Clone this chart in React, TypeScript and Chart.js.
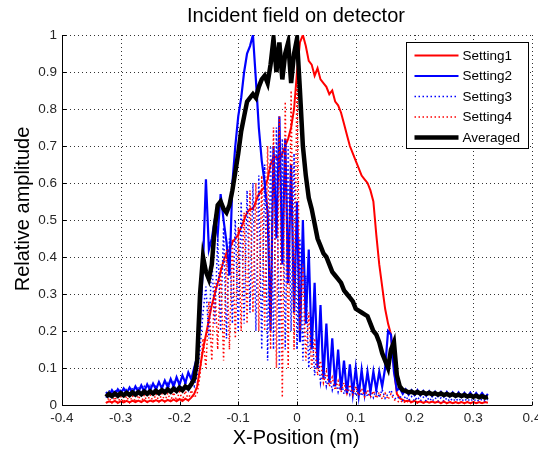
import React, { useEffect, useRef } from "react";
import { Chart, registerables } from "chart.js";

Chart.register(...registerables);

// X positions (m)
const X = [
  -0.325, -0.32, -0.315, -0.31, -0.305, -0.3, -0.295, -0.29, -0.285, -0.28,
  -0.275, -0.27, -0.265, -0.26, -0.255, -0.25, -0.245, -0.24, -0.235, -0.23,
  -0.225, -0.22, -0.215, -0.21, -0.205, -0.2, -0.195, -0.19, -0.185, -0.18,
  -0.175, -0.17, -0.165, -0.16, -0.155, -0.15, -0.145, -0.14, -0.135, -0.13,
  -0.125, -0.12, -0.115, -0.11, -0.105, -0.1, -0.095, -0.09, -0.085, -0.08,
  -0.075, -0.07, -0.065, -0.06, -0.055, -0.05, -0.045, -0.04, -0.035, -0.03,
  -0.025, -0.02, -0.015, -0.01, -0.005, 0, 0.005, 0.01, 0.015, 0.02,
  0.025, 0.03, 0.035, 0.04, 0.045, 0.05, 0.055, 0.06, 0.065, 0.07,
  0.075, 0.08, 0.085, 0.09, 0.095, 0.1, 0.105, 0.11, 0.115, 0.12,
  0.125, 0.13, 0.135, 0.14, 0.145, 0.15, 0.155, 0.16, 0.165, 0.17,
  0.175, 0.18, 0.185, 0.19, 0.195, 0.2, 0.205, 0.21, 0.215, 0.22,
  0.225, 0.23, 0.235, 0.24, 0.245, 0.25, 0.255, 0.26, 0.265, 0.27,
  0.275, 0.28, 0.285, 0.29, 0.295, 0.3, 0.305, 0.31, 0.315, 0.32,
  0.325,
];

const SETTING1 = [
  0.006, 0.01, 0.007, 0.011, 0.006, 0.01, 0.007, 0.011, 0.007, 0.012,
  0.008, 0.012, 0.008, 0.013, 0.008, 0.012, 0.009, 0.013, 0.009, 0.014,
  0.009, 0.014, 0.01, 0.015, 0.01, 0.016, 0.011, 0.017, 0.012, 0.02,
  0.03, 0.05, 0.1, 0.15, 0.19, 0.23, 0.27, 0.3, 0.33, 0.36,
  0.39, 0.41, 0.42, 0.44, 0.45, 0.46, 0.48, 0.5, 0.52, 0.53,
  0.53, 0.55, 0.57, 0.58, 0.59, 0.61, 0.65, 0.67, 0.67, 0.66,
  0.68, 0.7, 0.72, 0.75, 0.8, 0.9, 0.98, 1.0, 0.97, 0.93,
  0.92, 0.89, 0.91, 0.88, 0.87, 0.86, 0.84, 0.85, 0.82, 0.81,
  0.79, 0.76, 0.73, 0.7, 0.68, 0.66, 0.64, 0.62, 0.61, 0.6,
  0.58, 0.55, 0.46, 0.38, 0.32, 0.26, 0.22, 0.19, 0.1, 0.03,
  0.018, 0.014, 0.01, 0.012, 0.008, 0.011, 0.007, 0.01, 0.006, 0.01,
  0.006, 0.009, 0.006, 0.009, 0.005, 0.009, 0.005, 0.008, 0.005, 0.008,
  0.005, 0.008, 0.005, 0.008, 0.005, 0.008, 0.005, 0.008, 0.005, 0.008,
  0.006,
];

const SETTING2 = [
  0.035, 0.025, 0.04, 0.028, 0.042, 0.03, 0.045, 0.032, 0.047, 0.033,
  0.05, 0.035, 0.053, 0.037, 0.056, 0.04, 0.058, 0.042, 0.062, 0.045,
  0.066, 0.048, 0.07, 0.05, 0.075, 0.055, 0.08, 0.06, 0.088, 0.07,
  0.1, 0.13, 0.22, 0.38, 0.61, 0.42, 0.45, 0.5, 0.46, 0.57,
  0.5, 0.44, 0.35, 0.6, 0.7, 0.78, 0.83, 0.9, 0.95, 0.97,
  1.0, 0.88, 0.75, 0.66, 0.6, 0.52, 0.2, 0.7, 0.45, 0.78,
  0.38, 0.72, 0.33, 0.65, 0.25, 0.55, 0.17, 0.5, 0.22, 0.42,
  0.15, 0.33, 0.1, 0.27, 0.07, 0.22, 0.06, 0.18, 0.05, 0.15,
  0.04, 0.12, 0.03, 0.11, 0.03, 0.1, 0.025, 0.095, 0.03, 0.09,
  0.035, 0.09, 0.04, 0.09, 0.05, 0.1, 0.2, 0.19, 0.09, 0.04,
  0.045, 0.03, 0.042, 0.028, 0.04, 0.027, 0.04, 0.026, 0.038, 0.025,
  0.037, 0.024, 0.036, 0.024, 0.035, 0.023, 0.035, 0.023, 0.034, 0.022,
  0.034, 0.022, 0.033, 0.022, 0.033, 0.021, 0.032, 0.021, 0.032, 0.021,
  0.03,
];

const SETTING3 = [
  0.02, 0.04, 0.022, 0.042, 0.024, 0.044, 0.025, 0.045, 0.026, 0.047,
  0.028, 0.048, 0.03, 0.05, 0.03, 0.052, 0.032, 0.054, 0.033, 0.056,
  0.034, 0.058, 0.035, 0.06, 0.036, 0.062, 0.038, 0.064, 0.04, 0.065,
  0.05, 0.08, 0.15, 0.25, 0.32, 0.18, 0.4, 0.22, 0.45, 0.2,
  0.48, 0.18, 0.45, 0.22, 0.5, 0.2, 0.55, 0.22, 0.58, 0.25,
  0.6, 0.2, 0.62, 0.15, 0.65, 0.12, 0.7, 0.15, 0.75, 0.1,
  0.72, 0.15, 0.7, 0.2, 0.68, 0.15, 0.45, 0.12, 0.35, 0.1,
  0.24, 0.08, 0.16, 0.06, 0.11, 0.05, 0.08, 0.04, 0.07, 0.035,
  0.065, 0.03, 0.06, 0.028, 0.055, 0.025, 0.05, 0.024, 0.048, 0.022,
  0.045, 0.02, 0.043, 0.02, 0.042, 0.018, 0.03, 0.04, 0.02, 0.015,
  0.025, 0.012, 0.024, 0.012, 0.023, 0.011, 0.022, 0.011, 0.021, 0.01,
  0.02, 0.01, 0.02, 0.01, 0.019, 0.01, 0.019, 0.01, 0.018, 0.01,
  0.018, 0.01, 0.017, 0.01, 0.017, 0.01, 0.016, 0.01, 0.016, 0.01,
  0.015,
];

const SETTING4 = [
  0.005, 0.02, 0.006, 0.022, 0.006, 0.023, 0.007, 0.024, 0.007, 0.025,
  0.008, 0.026, 0.008, 0.027, 0.009, 0.028, 0.009, 0.03, 0.01, 0.031,
  0.01, 0.032, 0.011, 0.034, 0.012, 0.036, 0.013, 0.038, 0.014, 0.04,
  0.02, 0.03, 0.08, 0.18, 0.1, 0.28, 0.12, 0.33, 0.15, 0.38,
  0.12, 0.42, 0.15, 0.45, 0.18, 0.48, 0.2, 0.52, 0.22, 0.58,
  0.25, 0.6, 0.2, 0.62, 0.2, 0.7, 0.15, 0.75, 0.1, 0.78,
  0.02, 0.82, 0.1, 0.85, 0.15, 0.9, 0.2, 0.38, 0.12, 0.25,
  0.1, 0.18, 0.08, 0.12, 0.06, 0.09, 0.05, 0.075, 0.04, 0.065,
  0.035, 0.06, 0.03, 0.055, 0.028, 0.05, 0.025, 0.045, 0.022, 0.04,
  0.02, 0.038, 0.018, 0.035, 0.016, 0.032, 0.015, 0.03, 0.014, 0.012,
  0.006, 0.012, 0.005, 0.011, 0.005, 0.011, 0.005, 0.01, 0.005, 0.01,
  0.005, 0.01, 0.005, 0.01, 0.004, 0.01, 0.004, 0.009, 0.004, 0.009,
  0.004, 0.009, 0.004, 0.009, 0.004, 0.009, 0.004, 0.008, 0.004, 0.008,
  0.006,
];

const AVERAGED = [
  0.022, 0.03, 0.024, 0.031, 0.025, 0.032, 0.026, 0.033, 0.027, 0.034,
  0.028, 0.035, 0.029, 0.036, 0.03, 0.037, 0.031, 0.038, 0.032, 0.04,
  0.034, 0.042, 0.036, 0.044, 0.038, 0.047, 0.04, 0.05, 0.045, 0.056,
  0.07, 0.12, 0.3, 0.4, 0.36, 0.34, 0.38, 0.48, 0.54, 0.55,
  0.53, 0.52, 0.54, 0.58, 0.63, 0.68, 0.74, 0.78, 0.82, 0.83,
  0.84, 0.83, 0.86, 0.88, 0.89, 0.87, 0.92, 0.99, 0.9, 0.98,
  0.88, 0.95, 0.98, 0.87, 0.95, 0.99, 0.85, 0.7, 0.62, 0.56,
  0.53, 0.49, 0.45, 0.43, 0.41, 0.4, 0.38, 0.36, 0.35, 0.34,
  0.33, 0.31, 0.3, 0.29, 0.28, 0.26, 0.255, 0.25, 0.245, 0.24,
  0.22, 0.2, 0.19, 0.17, 0.14, 0.12, 0.1, 0.15, 0.17, 0.08,
  0.05, 0.04, 0.038, 0.034, 0.036, 0.032, 0.035, 0.031, 0.034, 0.03,
  0.033, 0.029, 0.032, 0.028, 0.031, 0.027, 0.03, 0.026, 0.029, 0.025,
  0.028, 0.024, 0.027, 0.023, 0.026, 0.022, 0.025, 0.021, 0.024, 0.02,
  0.022,
];

const SERIES_NAMES = ["Setting1", "Setting2", "Setting3", "Setting4", "Averaged"];
const X_TICKS = [-0.4, -0.3, -0.2, -0.1, 0, 0.1, 0.2, 0.3, 0.4];
const X_TICK_LABELS = ["-0.4", "-0.3", "-0.2", "-0.1", "0", "0.1", "0.2", "0.3", "0.4"];
const Y_TICKS = [0, 0.1, 0.2, 0.3, 0.4, 0.5, 0.6, 0.7, 0.8, 0.9, 1];
const Y_TICK_LABELS = ["0", "0.1", "0.2", "0.3", "0.4", "0.5", "0.6", "0.7", "0.8", "0.9", "1"];
const TITLE = "Incident field on detector";
const X_LABEL = "X-Position (m)";
const Y_LABEL = "Relative amplitude";

const FONT = '"Liberation Sans", Arial, Helvetica, sans-serif';

const STYLES = [
  { color: "#ff0000", width: 2, dash: [] as number[] },
  { color: "#0000ff", width: 2.2, dash: [] as number[] },
  { color: "#0000ff", width: 1.5, dash: [1.5, 2.5] },
  { color: "#ff0000", width: 1.5, dash: [1.5, 2.5] },
  { color: "#000000", width: 4.5, dash: [] as number[] },
];

const decorPlugin = {
  id: "decor",
  beforeDraw(chart: any) {
    const ctx = chart.ctx;
    ctx.save();
    ctx.fillStyle = "#ffffff";
    ctx.fillRect(0, 0, chart.width, chart.height);
    ctx.restore();
  },
  beforeDatasetsDraw(chart: any) {
    const { ctx, chartArea: a, scales } = chart;
    const xs = scales.x;
    const ys = scales.y;
    ctx.save();
    ctx.strokeStyle = "#333333";
    ctx.lineWidth = 1;
    ctx.setLineDash([1, 3]);
    X_TICKS.forEach((v) => {
      const px = Math.round(xs.getPixelForValue(v)) + 0.5;
      ctx.beginPath();
      ctx.moveTo(px, a.top);
      ctx.lineTo(px, a.bottom);
      ctx.stroke();
    });
    Y_TICKS.forEach((v) => {
      const py = Math.round(ys.getPixelForValue(v)) + 0.5;
      ctx.beginPath();
      ctx.moveTo(a.left, py);
      ctx.lineTo(a.right, py);
      ctx.stroke();
    });
    ctx.restore();
  },
  afterDatasetsDraw(chart: any) {
    const { ctx, chartArea: a, scales } = chart;
    const xs = scales.x;
    const ys = scales.y;
    ctx.save();
    // axes
    ctx.setLineDash([]);
    ctx.strokeStyle = "#000000";
    ctx.lineWidth = 1;
    const left = Math.round(a.left) + 0.5;
    const bottom = Math.round(a.bottom) + 0.5;
    ctx.beginPath();
    ctx.moveTo(left, a.top);
    ctx.lineTo(left, bottom);
    ctx.lineTo(a.right, bottom);
    ctx.stroke();
    // inner tick marks
    X_TICKS.forEach((v) => {
      const px = Math.round(xs.getPixelForValue(v)) + 0.5;
      ctx.beginPath();
      ctx.moveTo(px, bottom);
      ctx.lineTo(px, bottom - 4);
      ctx.stroke();
    });
    Y_TICKS.forEach((v) => {
      const py = Math.round(ys.getPixelForValue(v)) + 0.5;
      ctx.beginPath();
      ctx.moveTo(left, py);
      ctx.lineTo(left + 4, py);
      ctx.stroke();
    });
    // tick labels
    ctx.fillStyle = "#262626";
    ctx.font = `13.5px ${FONT}`;
    ctx.textAlign = "center";
    ctx.textBaseline = "alphabetic";
    X_TICKS.forEach((v, i) => {
      ctx.fillText(X_TICK_LABELS[i], xs.getPixelForValue(v), a.bottom + 17);
    });
    ctx.textAlign = "right";
    ctx.textBaseline = "middle";
    Y_TICKS.forEach((v, i) => {
      ctx.fillText(Y_TICK_LABELS[i], a.left - 5, ys.getPixelForValue(v) + 0.5);
    });
    // title and axis labels
    ctx.fillStyle = "#000000";
    ctx.font = `20px ${FONT}`;
    ctx.textAlign = "center";
    ctx.textBaseline = "alphabetic";
    const cx = (a.left + a.right) / 2;
    ctx.fillText(TITLE, cx - 1, a.top - 13);
    ctx.fillText(X_LABEL, cx - 1, a.bottom + 39);
    ctx.save();
    ctx.translate(23, (a.top + a.bottom) / 2 - 11);
    ctx.rotate(-Math.PI / 2);
    ctx.textBaseline = "middle";
    ctx.fillText(Y_LABEL, 0, 0);
    ctx.restore();
    // legend
    const lw = 122;
    const lh = 106;
    const lx = Math.round(a.right - 126) + 0.5;
    const ly = Math.round(a.top + 7) + 0.5;
    ctx.fillStyle = "#ffffff";
    ctx.fillRect(lx, ly, lw, lh);
    ctx.strokeStyle = "#000000";
    ctx.lineWidth = 1;
    ctx.strokeRect(lx, ly, lw, lh);
    ctx.font = `13.5px ${FONT}`;
    ctx.textAlign = "left";
    ctx.textBaseline = "middle";
    SERIES_NAMES.forEach((name, i) => {
      const yy = ly + 13 + i * 20.5;
      const st = STYLES[i];
      ctx.strokeStyle = st.color;
      ctx.lineWidth = st.width;
      ctx.setLineDash(st.dash);
      ctx.beginPath();
      ctx.moveTo(lx + 8, yy);
      ctx.lineTo(lx + 52, yy);
      ctx.stroke();
      ctx.setLineDash([]);
      ctx.fillStyle = "#000000";
      ctx.fillText(name, lx + 56, yy + 0.5);
    });
    ctx.restore();
  },
};

export default function App() {
  const canvasRef = useRef<HTMLCanvasElement | null>(null);

  useEffect(() => {
    const canvas = canvasRef.current;
    if (!canvas) return;
    const seriesList = [SETTING1, SETTING2, SETTING3, SETTING4, AVERAGED];
    const orders = [4, 3, 2, 1, 0];
    const datasets = seriesList.map((vals, i) => ({
      label: SERIES_NAMES[i],
      data: X.map((x, j) => ({ x, y: vals[j] })),
      borderColor: STYLES[i].color,
      backgroundColor: STYLES[i].color,
      borderWidth: STYLES[i].width,
      borderDash: STYLES[i].dash,
      pointRadius: 0,
      tension: 0,
      fill: false,
      order: orders[i],
      borderJoinStyle: "miter" as const,
    }));
    const chart = new Chart(canvas, {
      type: "line",
      data: { datasets },
      plugins: [decorPlugin],
      options: {
        responsive: false,
        animation: false,
        maintainAspectRatio: false,
        layout: { padding: { top: 35, right: 6, left: 0, bottom: 0 } },
        plugins: {
          legend: { display: false },
          title: { display: false },
          tooltip: { enabled: false },
        },
        scales: {
          x: {
            type: "linear",
            min: -0.4,
            max: 0.4,
            grid: { display: false, drawTicks: false },
            border: { display: false },
            ticks: { display: false },
            afterBuildTicks: (s: any) => {
              s.ticks = X_TICKS.map((v) => ({ value: v }));
            },
            afterFit: (s: any) => {
              s.height = 45;
              s.paddingLeft = 0;
              s.paddingRight = 0;
            },
          },
          y: {
            type: "linear",
            min: 0,
            max: 1,
            grid: { display: false, drawTicks: false },
            border: { display: false },
            ticks: { display: false },
            afterBuildTicks: (s: any) => {
              s.ticks = Y_TICKS.map((v) => ({ value: v }));
            },
            afterFit: (s: any) => {
              s.width = 62;
              s.paddingTop = 0;
              s.paddingBottom = 0;
            },
          },
        },
      },
    });
    return () => chart.destroy();
  }, []);

  return (
    <div style={{ position: "absolute", left: 0, top: 0, width: 538, height: 450 }}>
      <canvas ref={canvasRef} width={538} height={450} style={{ display: "block" }} />
    </div>
  );
}
